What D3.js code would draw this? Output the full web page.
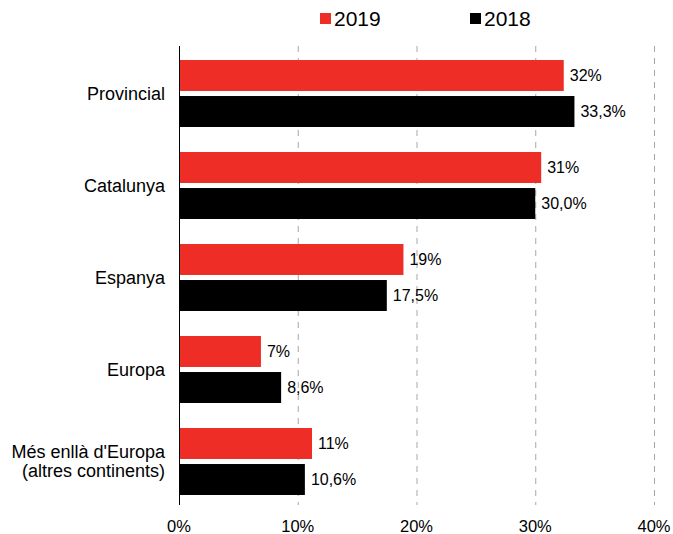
<!DOCTYPE html>
<html>
<head>
<meta charset="utf-8">
<script src="https://cdn.jsdelivr.net/npm/d3@7"></script>
<style>
  body { margin: 0; background: #fff; }
  text { font-family: "Liberation Sans", Arial, sans-serif; fill: #000; }
</style>
</head>
<body>
<svg id="chart" width="673" height="534"></svg>
<script>
// data
var categories = ["Provincial", "Catalunya", "Espanya", "Europa", "Més enllà d'Europa\n(altres continents)"];
var series = ["2019", "2018"];
var values2019 = [32.4, 30.5, 18.9, 6.9, 11.2];
var labels2019 = ["32%", "31%", "19%", "7%", "11%"];
var values2018 = [33.3, 30.0, 17.5, 8.6, 10.6];
var labels2018 = ["33,3%", "30,0%", "17,5%", "8,6%", "10,6%"];
var xTicks = [0, 10, 20, 30, 40];
var colors = { "2019": "#ee2d27", "2018": "#000000" };

var svg = d3.select("#chart");

var x = d3.scaleLinear().domain([0, 40]).range([179, 654]);
var y = d3.scaleBand().domain(categories).range([47.5, 507.5])
    .paddingInner(0.272).paddingOuter(0.136);
var sub = d3.scaleBand().domain(series).range([0, y.bandwidth()]).paddingInner(0.14);

// dashed gridlines
svg.append("g").selectAll("line")
  .data(xTicks.slice(1))
  .enter().append("line")
    .attr("x1", function(d) { return x(d) + 0.5; })
    .attr("x2", function(d) { return x(d) + 0.5; })
    .attr("y1", 46).attr("y2", 505)
    .attr("stroke", "#a6a6a6")
    .attr("stroke-dasharray", "6,6");

// bars
var rows = categories.map(function(c, i) {
  return [
    { cat: c, s: "2019", v: values2019[i], lab: labels2019[i] },
    { cat: c, s: "2018", v: values2018[i], lab: labels2018[i] }
  ];
});

var groups = svg.append("g").selectAll("g")
  .data(rows)
  .enter().append("g")
    .attr("transform", function(d) { return "translate(0," + y(d[0].cat) + ")"; });

groups.selectAll("rect")
  .data(function(d) { return d; })
  .enter().append("rect")
    .attr("x", x(0))
    .attr("y", function(d) { return sub(d.s); })
    .attr("width", function(d) { return x(d.v) - x(0); })
    .attr("height", sub.bandwidth())
    .attr("fill", function(d) { return colors[d.s]; });

groups.selectAll("text")
  .data(function(d) { return d; })
  .enter().append("text")
    .attr("x", function(d) { return x(d.v) + 6; })
    .attr("y", function(d) { return sub(d.s) + sub.bandwidth() / 2; })
    .attr("dy", "0.35em")
    .style("font-size", "16px")
    .text(function(d) { return d.lab; });

// axis line
svg.append("line")
  .attr("x1", x(0) + 0.5).attr("x2", x(0) + 0.5)
  .attr("y1", 46).attr("y2", 505)
  .attr("stroke", "#000").attr("stroke-width", 1);

// category labels
svg.append("g").selectAll("text")
  .data(categories)
  .enter().append("text")
    .attr("text-anchor", "end")
    .style("font-size", "18px")
    .each(function(d) {
      var lines = d.split("\n");
      var cy = y(d) + y.bandwidth() / 2;
      var t = d3.select(this);
      lines.forEach(function(l, k) {
        t.append("tspan")
          .attr("x", 165)
          .attr("y", cy + (k - (lines.length - 1) / 2) * 19)
          .attr("dy", "0.35em")
          .text(l);
      });
    });

// x tick labels
svg.append("g").selectAll("text")
  .data(xTicks)
  .enter().append("text")
    .attr("x", function(d) { return x(d); })
    .attr("y", 532)
    .attr("text-anchor", "middle")
    .style("font-size", "16.5px")
    .text(function(d) { return d + "%"; });

// legend
var legX = [320, 470];
var leg = svg.append("g").selectAll("g")
  .data(series)
  .enter().append("g")
    .attr("transform", function(d, i) { return "translate(" + legX[i] + ",13)"; });
leg.append("rect")
  .attr("width", 11).attr("height", 11)
  .attr("fill", function(d) { return colors[d]; });
leg.append("text")
  .attr("x", 14).attr("y", 6)
  .attr("dy", "0.35em")
  .style("font-size", "21px")
  .text(function(d) { return d; });
</script>
</body>
</html>
